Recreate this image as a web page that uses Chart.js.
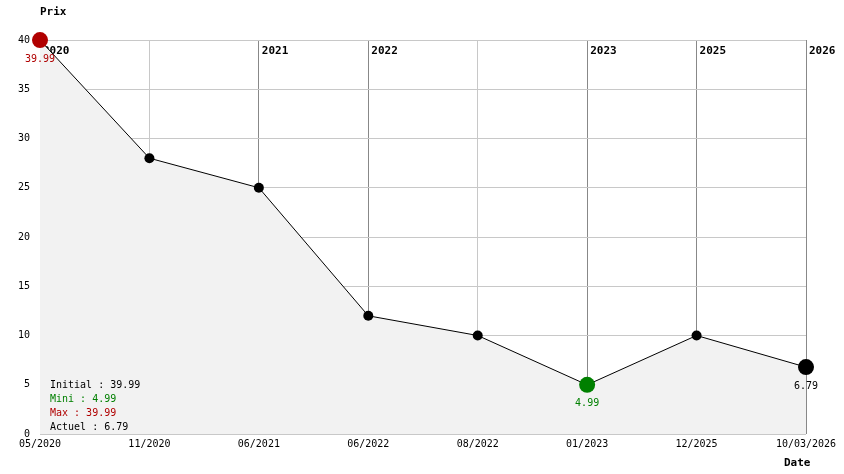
<!DOCTYPE html>
<html>
<head>
<meta charset="utf-8">
<script src="https://cdn.jsdelivr.net/npm/chart.js@4"></script>
<style>
  html, body { margin: 0; padding: 0; background: #fff; }
  #wrap { width: 844px; height: 474px; }
</style>
</head>
<body>
<div id="wrap"><canvas id="price_chart"></canvas></div>
<script>
// data
const dates = ["05/2020", "11/2020", "06/2021", "06/2022", "08/2022", "01/2023", "12/2025", "10/03/2026"];
const prices = [39.99, 28, 25, 12, 10, 4.99, 10, 6.79];
// year marker shown at the top of some columns ("" = none)
const years = ["2020", "", "2021", "2022", "", "2023", "2025", "2026"];

const RED = "#b00000";
const GREEN = "#008000";
const FONT = "'DejaVu Sans Mono', 'Liberation Mono', monospace";

const iMin = prices.indexOf(Math.min(...prices));
const iMax = prices.indexOf(Math.max(...prices));
const iLast = prices.length - 1;

function pointColor(i) {
    if (i === iMax) return RED;
    if (i === iMin) return GREEN;
    return "#000";
}
function pointSize(i) {
    return (i === iMax || i === iMin || i === iLast) ? 8 : 5;
}

// year labels are drawn under the points (the red dot hides the "2")
const yearPlugin = {
    id: "years",
    beforeDatasetsDraw(chart) {
        const c = chart.ctx, x = chart.scales.x, top = chart.chartArea.top;
        c.save();
        c.font = "bold 11px " + FONT;
        c.fillStyle = "#000";
        c.textBaseline = "middle";
        years.forEach((y, i) => {
            if (!y) return;
            c.fillText(y, x.getPixelForValue(i) + 3, top + 11);
        });
        c.restore();
    }
};

// values under the points, summary box, axis titles
const notesPlugin = {
    id: "notes",
    afterDatasetsDraw(chart) {
        const c = chart.ctx, x = chart.scales.x, y = chart.scales.y, a = chart.chartArea;
        c.save();
        c.font = "10px " + FONT;
        c.textAlign = "center";
        c.textBaseline = "middle";
        [iMax, iMin, iLast].forEach((i) => {
            c.fillStyle = i === iLast ? "#000" : pointColor(i);
            c.fillText(prices[i].toFixed(2), x.getPixelForValue(i), y.getPixelForValue(prices[i]) + 19);
        });

        const lines = [
            ["Initial : " + prices[0].toFixed(2), "#000"],
            ["Mini : " + prices[iMin].toFixed(2), GREEN],
            ["Max : " + prices[iMax].toFixed(2), RED],
            ["Actuel : " + prices[iLast].toFixed(2), "#000"],
        ];
        c.textAlign = "left";
        lines.forEach((l, k) => {
            c.fillStyle = l[1];
            c.fillText(l[0], a.left + 10, a.bottom - 49 + k * 14);
        });

        c.font = "bold 11px " + FONT;
        c.fillStyle = "#000";
        c.fillText("Prix", a.left, 12);
        c.fillText("Date", a.right - 22, a.bottom + 29);
        c.restore();
    }
};

new Chart(document.getElementById("price_chart"), {
    type: "line",
    data: {
        labels: dates,
        datasets: [{
            data: prices,
            borderColor: "#000",
            borderWidth: 1,
            fill: "origin",
            backgroundColor: "#f2f2f2",
            tension: 0,
            clip: false,
            pointRadius: prices.map((v, i) => pointSize(i)),
            pointHoverRadius: prices.map((v, i) => pointSize(i)),
            pointBackgroundColor: prices.map((v, i) => pointColor(i)),
            pointBorderColor: prices.map((v, i) => pointColor(i)),
            pointBorderWidth: 0,
        }],
    },
    options: {
        responsive: true,
        maintainAspectRatio: false,
        animation: false,
        layout: { padding: { top: 40, right: 38, left: 0, bottom: 0 } },
        plugins: {
            legend: { display: false },
            tooltip: { enabled: false },
        },
        scales: {
            x: {
                offset: false,
                border: { display: false },
                grid: {
                    color: (ctx) => years[ctx.index] ? "#888" : "#c8c8c8",
                    lineWidth: 1,
                    drawTicks: false,
                },
                ticks: {
                    font: { family: FONT, size: 10 },
                    color: "#000",
                    maxRotation: 0,
                    autoSkip: false,
                    padding: 4,
                },
                afterFit: (s) => { s.height = 40; },
            },
            y: {
                min: 0,
                max: 40,
                border: { display: false },
                grid: { color: "#c8c8c8", lineWidth: 1, drawTicks: false },
                ticks: {
                    stepSize: 5,
                    font: { family: FONT, size: 10 },
                    color: "#000",
                    padding: 10,
                },
                afterFit: (s) => { s.width = 40; },
            },
        },
    },
    plugins: [yearPlugin, notesPlugin],
});
</script>
</body>
</html>
